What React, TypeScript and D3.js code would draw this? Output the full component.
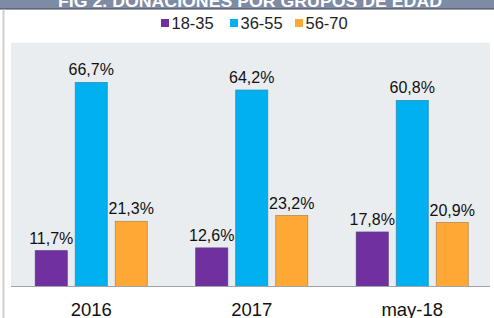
import React from "react";
import * as d3 from "d3";

// Datos
const periodos = ["2016", "2017", "may-18"];
const grupos = ["18-35", "36-55", "56-70"];
const valores18a35 = [11.7, 12.6, 17.8];
const valores36a55 = [66.7, 64.2, 60.8];
const valores56a70 = [21.3, 23.2, 20.9];
const colores = ["#7030a0", "#00b0f0", "#ffa835"];
const bordes = ["#5d3a80", "#2a8fb8", "#b58a50"];
const titulo = "FIG 2. DONACIONES POR GRUPOS DE EDAD";

const series = [valores18a35, valores36a55, valores56a70];

const App: React.FC = () => {
  const width = 494;
  const height = 318;
  const plotLeft = 11;
  const plotRight = 490;
  const plotTop = 42.7;
  const baseline = 286.5;

  const x = d3.scaleBand<string>().domain(periodos).range([plotLeft, 492.5]).padding(0);
  const xInner = d3
    .scaleBand<string>()
    .domain(grupos)
    .range([-60, 60])
    .paddingInner(0.2)
    .paddingOuter(0.1);
  const y = d3.scaleLinear().domain([0, 80]).range([baseline, baseline - 80 * 3.06]);

  const fmt = (v: number) => v.toFixed(1).replace(".", ",") + "%";

  const font = "Arial, 'Liberation Sans', sans-serif";

  // Leyenda
  const legendX = [161, 230, 295];

  return (
    <svg
      width={width}
      height={height}
      style={{ position: "absolute", left: 0, top: 0, fontFamily: font }}
    >
      <defs>
        <clipPath id="banner">
          <rect x={0} y={0} width={width} height={9} />
        </clipPath>
      </defs>
      <rect x={0} y={0} width={width} height={height} fill="#ffffff" />
      {/* Banda del título (cortada) */}
      <rect x={0} y={0} width={width} height={9} fill="#7d8ba4" />
      <line x1={0} x2={width} y1={9} y2={9} stroke="#3f4656" strokeWidth={1.2} />
      <g clipPath="url(#banner)">
        <text
          x={250}
          y={6.5}
          textAnchor="middle"
          fill="#ffffff"
          fontWeight="bold"
          fontSize={16}
          textLength={384}
          lengthAdjust="spacingAndGlyphs"
        >
          {titulo}
        </text>
      </g>
      {/* Borde izquierdo */}
      <rect x={2.5} y={9.5} width={2} height={height - 9} fill="#cfcfcf" />

      {/* Área del gráfico */}
      <rect x={plotLeft} y={plotTop} width={plotRight - plotLeft} height={baseline - plotTop} fill="#e9edf0" />

      {/* Leyenda */}
      {grupos.map((g, i) => (
        <g key={g}>
          <rect x={legendX[i]} y={19} width={8} height={8} fill={colores[i]} />
          <text x={legendX[i] + 10.5} y={28.5} fontSize={16.5} fill="#222">
            {g}
          </text>
        </g>
      ))}

      {/* Barras */}
      {periodos.map((p, pi) => {
        const cx = (x(p) ?? 0) + x.bandwidth() / 2;
        return (
          <g key={p}>
            {grupos.map((g, gi) => {
              const v = series[gi][pi];
              const bx = cx + (xInner(g) ?? 0);
              const by = y(v);
              return (
                <g key={g}>
                  <rect
                    x={bx}
                    y={by}
                    width={xInner.bandwidth()}
                    height={baseline - by}
                    fill={colores[gi]}
                    stroke={bordes[gi]}
                    strokeWidth={0.8}
                  />
                  <text
                    x={bx + xInner.bandwidth() / 2}
                    y={by - 7}
                    textAnchor="middle"
                    fontSize={16}
                    fill="#111"
                  >
                    {fmt(v)}
                  </text>
                </g>
              );
            })}
            <text x={cx} y={315.5} textAnchor="middle" fontSize={18.5} fill="#111">
              {p}
            </text>
          </g>
        );
      })}

      {/* Línea base */}
      <line x1={plotLeft} x2={plotRight} y1={baseline} y2={baseline} stroke="#a0a4a8" strokeWidth={1} />
    </svg>
  );
};

export default App;
